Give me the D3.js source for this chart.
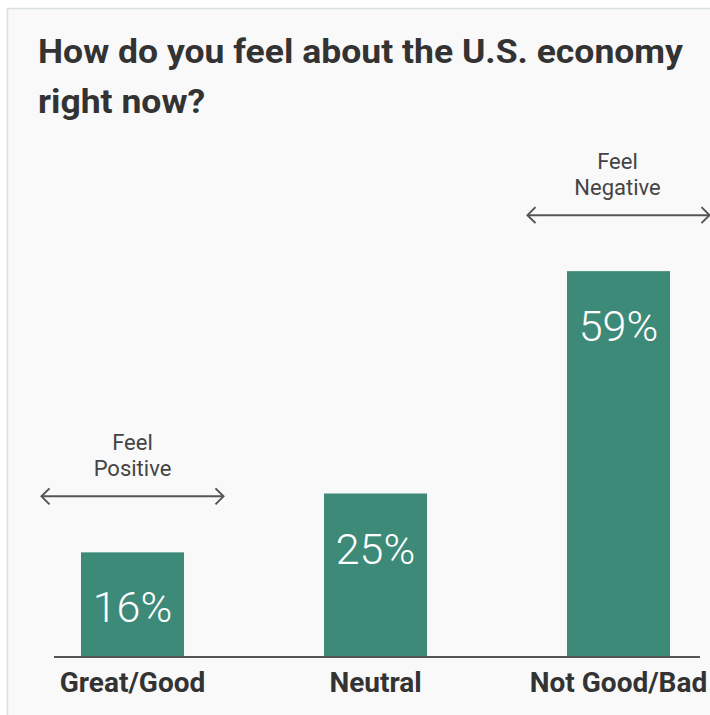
<!DOCTYPE html>
<html>
<head>
<meta charset="utf-8">
<script src="https://cdn.jsdelivr.net/npm/d3@7"></script>
<style>
  html, body { margin: 0; padding: 0; background: #ffffff; }
  svg { display: block; }
</style>
</head>
<body>
<svg id="chart" width="710" height="715"></svg>
<script>
// Survey answers and their shares (percent)
const categories = ["Great/Good", "Neutral", "Not Good/Bad"];
const shares = [16, 25, 59];
const valueLabels = ["16%", "25%", "59%"];

// Bracket annotations spanning sentiment groups
const groupNotes = [
  { lines: ["Feel", "Positive"], from: "Great/Good", side: "left" },
  { lines: ["Feel", "Negative"], from: "Not Good/Bad", side: "right" }
];

const titleLines = ["How do you feel about the U.S. economy", "right now?"];

const W = 710, H = 715;
const svg = d3.select("#chart");

// Card background with a thin border on the top and left edges
svg.append("rect").attr("x", 7).attr("y", 8).attr("width", W).attr("height", H)
  .attr("fill", "#f9f9f9");
svg.append("line").attr("x1", 7).attr("x2", W).attr("y1", 8.5).attr("y2", 8.5)
  .attr("stroke", "#d9e2e1").attr("stroke-width", 1.5);
svg.append("line").attr("x1", 7.5).attr("x2", 7.5).attr("y1", 8).attr("y2", H)
  .attr("stroke", "#d9e2e1").attr("stroke-width", 1.5);

// Stretch a text element horizontally around its anchor point
function stretch(sel, factor, anchorX) {
  sel.attr("transform", `translate(${anchorX},0) scale(${factor},1) translate(${-anchorX},0)`);
}

// Title
const title = svg.append("g");
titleLines.forEach((t, i) => {
  const el = title.append("text")
    .attr("x", 38).attr("y", 63 + i * 50)
    .attr("font-family", "Roboto, sans-serif")
    .attr("font-weight", 700)
    .attr("font-size", 34)
    .attr("fill", "#333333")
    .text(t);
  stretch(el, 1.045, 38);
});

// Scales
const x = d3.scaleBand()
  .domain(categories)
  .range([11, 740])
  .paddingInner(0.576)
  .paddingOuter(0.288);

const y = d3.scaleLinear()
  .domain([0, 100])
  .range([657, 3]);

// Bars
svg.append("g").selectAll("rect")
  .data(categories)
  .join("rect")
  .attr("x", d => x(d))
  .attr("y", (d, i) => y(shares[i]))
  .attr("width", x.bandwidth())
  .attr("height", (d, i) => y(0) - y(shares[i]))
  .attr("fill", "#3c8a77");

// Value labels inside the bars
svg.append("g").selectAll("text")
  .data(categories)
  .join("text")
  .attr("x", d => x(d) + x.bandwidth() / 2)
  .attr("y", (d, i) => y(shares[i]) + 70)
  .attr("text-anchor", "middle")
  .attr("font-family", "Roboto, sans-serif")
  .attr("font-weight", 300)
  .attr("font-size", 43)
  .attr("fill", "#ffffff")
  .text((d, i) => valueLabels[i]);

// Baseline axis with category labels
const axis = d3.axisBottom(x).tickSize(0).tickPadding(0);
const axisG = svg.append("g")
  .attr("transform", `translate(0,${y(0)})`)
  .call(axis);
axisG.select(".domain").remove();
axisG.append("line")
  .attr("x1", 54).attr("x2", 700)
  .attr("y1", 0).attr("y2", 0)
  .attr("stroke", "#555555").attr("stroke-width", 2);
axisG.selectAll(".tick text")
  .attr("y", 35)
  .attr("dy", 0)
  .attr("font-family", "Roboto, sans-serif")
  .attr("font-weight", 700)
  .attr("font-size", 28)
  .attr("fill", "#333333");

// Group annotations: two-line caption over a double-headed arrow
const noteG = svg.append("g");
groupNotes.forEach(n => {
  const i = categories.indexOf(n.from);
  const cx = x(n.from) + x.bandwidth() / 2;
  const arrowY = y(shares[i]) - 56;
  const half = 91;
  const x1 = cx - half, x2 = cx + half;
  const g = noteG.append("g");
  const textCx = n.side === "left" ? cx : cx - 1;
  n.lines.forEach((t, k) => {
    g.append("text")
      .attr("x", textCx)
      .attr("y", arrowY - 46 + k * 26)
      .attr("text-anchor", "middle")
      .attr("font-family", "Roboto, sans-serif")
      .attr("font-size", 22)
      .attr("fill", "#444444")
      .text(t);
  });
  g.append("line")
    .attr("x1", x1).attr("x2", x2)
    .attr("y1", arrowY).attr("y2", arrowY)
    .attr("stroke", "#555555").attr("stroke-width", 2);
  g.append("path")
    .attr("d", `M${x1 + 8},${arrowY - 8} L${x1},${arrowY} L${x1 + 8},${arrowY + 8}`)
    .attr("fill", "none").attr("stroke", "#555555").attr("stroke-width", 2);
  g.append("path")
    .attr("d", `M${x2 - 8},${arrowY - 8} L${x2},${arrowY} L${x2 - 8},${arrowY + 8}`)
    .attr("fill", "none").attr("stroke", "#555555").attr("stroke-width", 2);
});
</script>
</body>
</html>
